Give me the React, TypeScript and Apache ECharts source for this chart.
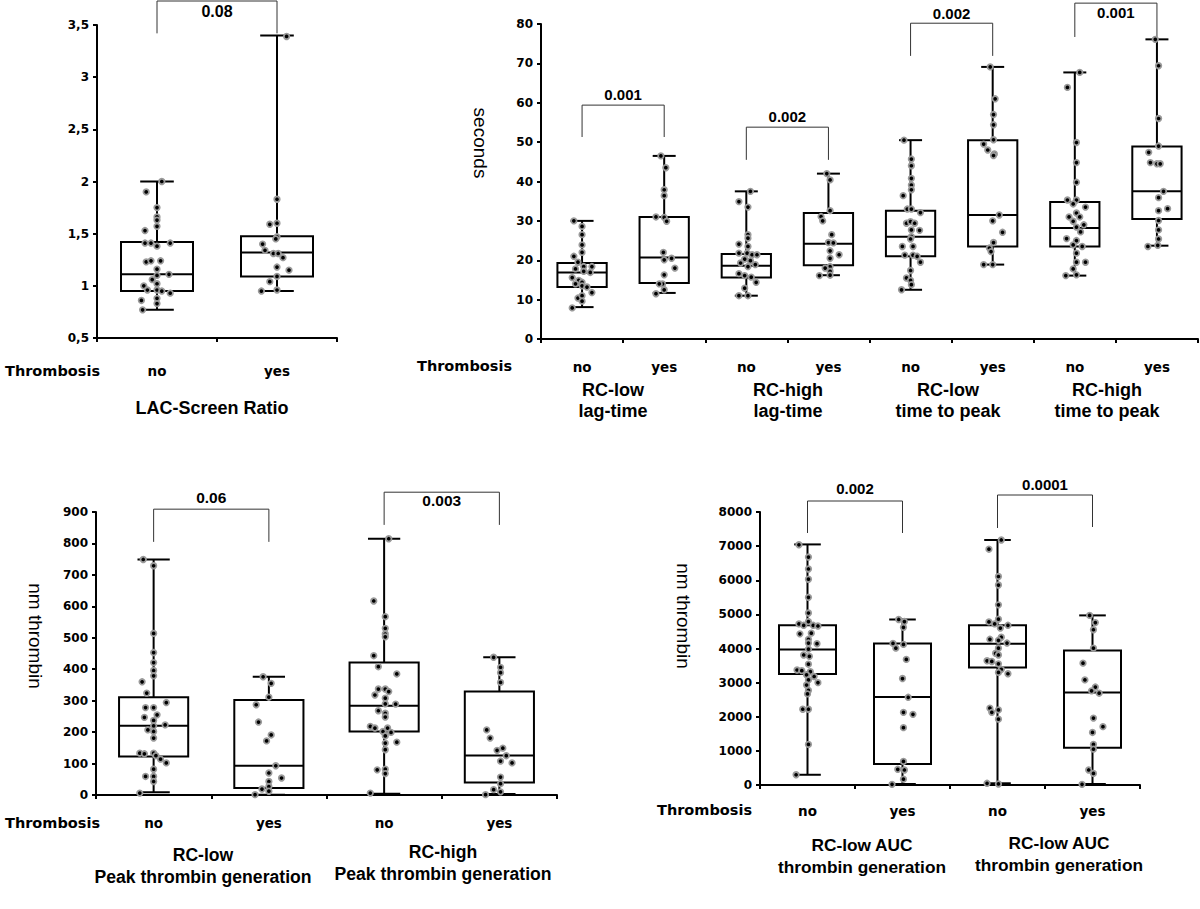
import React, { useEffect, useRef } from 'react';
import * as echarts from 'echarts';

// ---------- Panel A: LAC-Screen Ratio ----------
const lacCategories = ['no', 'yes'];
// [low whisker, q1, median, q3, high whisker]
const lacBox = [
  [0.77, 0.95, 1.11, 1.42, 2.0],
  [0.95, 1.09, 1.32, 1.475, 3.4],
];
// [horizontal jitter, value]
const lacNo = [[0.04, 2.0], [-0.09, 1.9], [0, 1.75], [0, 1.66], [0, 1.63], [0, 1.57], [-0.1, 1.53], [-0.1, 1.41], [-0.05, 1.41], [0, 1.38], [0.11, 1.41], [-0.09, 1.23], [-0.05, 1.24], [0.03, 1.24], [0, 1.16], [0, 1.1], [0.1, 1.11], [-0.04, 1.06], [-0.11, 1.0], [0, 1.02], [-0.08, 0.96], [0, 0.96], [0.04, 0.95], [0.11, 0.93], [-0.13, 0.86], [0, 0.88], [0, 0.83], [-0.12, 0.77]];
const lacYes = [[0.08, 3.39], [0, 1.83], [-0.06, 1.59], [0, 1.6], [0, 1.47], [-0.01, 1.45], [-0.12, 1.4], [-0.1, 1.34], [-0.03, 1.31], [0.01, 1.31], [0.05, 1.27], [0, 1.18], [0.1, 1.15], [0, 1.09], [-0.06, 1.04], [-0.13, 0.95], [0, 0.96]];
const lacPValues = ['0.08'];
// [from cat, to cat, left leg end, right leg end, bar level, label level]
const lacBrackets = [[0, 1, 3.42, 3.42, 3.73, 3.63]];

// ---------- Panel B: seconds ----------
const secCategories = ['no', 'yes', 'no', 'yes', 'no', 'yes', 'no', 'yes'];
const secBox = [
  [8.1, 13.2, 16.9, 19.3, 30],
  [11.7, 14.2, 20.7, 31, 46.5],
  [11, 15.6, 18.6, 21.6, 37.5],
  [16.2, 18.7, 24.2, 32, 42],
  [12.5, 21, 26, 32.6, 50.5],
  [18.9, 23.5, 31.5, 50.5, 69.1],
  [16.1, 23.5, 28.2, 34.8, 67.7],
  [23.7, 30.5, 37.5, 48.9, 76.1],
];
const lagLowNo = [[-0.1, 30], [0, 28.6], [0, 26.5], [0, 23.9], [0, 22], [-0.1, 21], [-0.05, 19.5], [0.02, 18.4], [0.12, 18.4], [-0.08, 17.8], [0.1, 16.9], [0.02, 17.2], [-0.12, 15.6], [-0.04, 14.9], [0, 14.4], [-0.08, 14], [0, 13.5], [0.06, 13.2], [0.12, 11.8], [-0.05, 10.4], [0, 11], [0, 9.6], [-0.12, 7.9]];
const lagLowYes = [[-0.04, 46.5], [0.02, 43.5], [0, 37.9], [0, 36.4], [-0.1, 31], [0, 30.9], [0.03, 29.9], [-0.01, 22], [0.09, 20.5], [0, 20.1], [0.13, 18], [0, 16.3], [-0.02, 14], [-0.06, 14], [0, 12.5], [-0.1, 11.5]];
const lagHighNo = [[0.05, 37.5], [-0.09, 34.9], [0.02, 33.5], [0.02, 26.5], [0.02, 25.6], [-0.09, 24.1], [0.02, 23.5], [-0.09, 21.8], [0.01, 21.8], [0.07, 21.4], [0.13, 21.4], [-0.02, 20.3], [0.05, 19.9], [-0.07, 19.3], [0.11, 18.9], [0.02, 18.4], [-0.09, 16.6], [-0.02, 16.1], [0.06, 15.7], [0.12, 14.4], [-0.02, 12.9], [-0.09, 11], [0.02, 11]];
const lagHighYes = [[-0.02, 42], [0.02, 40.4], [0.02, 32.6], [-0.09, 31.1], [-0.07, 30], [0.04, 26.5], [0, 24.5], [0.06, 24.4], [0.02, 22.4], [0.13, 21.4], [0.02, 20.5], [0.02, 18.4], [-0.04, 18], [0.02, 17.2], [-0.11, 16.1], [0.02, 16.2]];
const ttpLowNo = [[-0.08, 50.5], [0.01, 45.7], [0.01, 44], [0.01, 40.8], [0.01, 39.1], [0.01, 37.9], [-0.09, 36.4], [-0.04, 33], [0.01, 33], [0.12, 32.1], [-0.05, 29.4], [0, 29.8], [0.05, 29.4], [0.01, 27.7], [0.11, 27.6], [0.01, 26], [0, 25.4], [-0.1, 23.5], [0.03, 23.5], [-0.07, 21.3], [0.03, 21.3], [0.08, 21], [0.12, 19.5], [0, 17.4], [-0.05, 15.5], [0, 14.9], [0.01, 13.8], [-0.11, 12.5]];
const ttpLowYes = [[-0.03, 69.1], [0.03, 61], [0.01, 57], [0.01, 54.4], [0.01, 50.6], [-0.11, 49.5], [-0.06, 48], [0.02, 47], [0.01, 46.6], [0.08, 31.5], [0, 30], [0.12, 27.1], [0.01, 24.5], [-0.04, 23.1], [-0.02, 22.2], [-0.11, 18.9], [0, 18.9]];
const ttpHighNo = [[0.06, 67.7], [-0.09, 63.9], [0.02, 49.9], [0.02, 44.8], [0.02, 39.8], [-0.09, 35.3], [0.02, 35.3], [-0.02, 34.3], [0.13, 33.5], [0.02, 32], [-0.07, 31], [0.06, 31], [-0.02, 29.9], [0.11, 29], [0.02, 28.4], [0.07, 27.2], [-0.1, 25.5], [0.02, 25], [-0.02, 23.9], [0.09, 23.5], [0.02, 21.8], [0.02, 19.5], [0.13, 19.5], [-0.02, 17.8], [-0.11, 16.1], [0.02, 16.3]];
const ttpHighYes = [[-0.02, 76.1], [0.02, 69.4], [0.02, 56], [0.02, 49], [-0.1, 47.4], [-0.08, 44.8], [0, 44.5], [0.04, 44.5], [0.08, 37.5], [0.02, 35.9], [0.13, 33.1], [0.02, 32.6], [0.02, 30.1], [0.02, 27.7], [0.02, 25.4], [-0.11, 23.5], [0.01, 23.8]];
const secPValues = ['0.001', '0.002', '0.002', '0.001'];
const secBrackets = [
  [0, 1, 51.3, 51.3, 59.4, 62.2],
  [2, 3, 45.5, 45.5, 53.8, 56.6],
  [4, 5, 71.9, 71.9, 80.2, 82.6],
  [6, 7, 76.7, 76.4, 85.3, 82.8],
];

// ---------- Panel C: Peak thrombin ----------
const peakCategories = ['no', 'yes', 'no', 'yes'];
const peakBox = [
  [8.5, 122.7, 220, 311, 749],
  [1, 22, 93, 302, 376],
  [4, 202, 284, 421, 815],
  [3, 40, 126, 329, 438],
];
const peakLowNo = [[-0.09, 749], [0, 729], [0, 514], [0, 453], [0, 421], [0, 396], [0, 379], [-0.1, 360], [-0.06, 324], [0.11, 294], [-0.07, 278], [0, 278], [0.03, 255], [-0.08, 247], [0, 237], [0, 220], [0.1, 223], [-0.05, 207], [0, 202], [0, 181], [-0.12, 133], [-0.08, 131], [0, 133], [0.02, 125], [0.06, 114], [0.11, 102], [0, 82], [0, 59], [-0.07, 59], [0, 43], [-0.12, 6]];
const peakLowYes = [[-0.05, 376], [0.02, 355], [0, 311], [-0.11, 287], [-0.09, 232], [0.02, 191], [-0.02, 172], [0.06, 93], [0, 70], [0.11, 54], [0, 43], [0, 27], [-0.06, 19], [0, 12], [-0.12, 1]];
const peakHighNo = [[0.04, 815], [-0.09, 617], [0.01, 567], [0.01, 530], [0.01, 512], [0.01, 503], [-0.09, 443], [-0.05, 408], [0.11, 385], [-0.05, 337], [0.01, 337], [0.04, 329], [-0.08, 318], [0.01, 308], [0.01, 290], [0.1, 289], [-0.05, 268], [0.01, 260], [0.01, 248], [-0.12, 218], [-0.08, 213], [0.03, 213], [-0.01, 202], [0.06, 199], [0.01, 188], [0.11, 168], [0.01, 165], [0.01, 144], [-0.06, 80], [0.01, 82], [0.01, 68], [-0.12, 6]];
const peakHighYes = [[-0.05, 438], [0.01, 406], [0.01, 389], [0.01, 358], [-0.11, 207], [-0.08, 181], [0.03, 149], [-0.02, 142], [0.06, 125], [0.01, 108], [0.11, 102], [0.01, 57], [0.01, 36], [-0.05, 17], [0.01, 10], [-0.12, 1]];
const peakPValues = ['0.06', '0.003'];
const peakBrackets = [
  [0, 1, 805, 805, 909, 945],
  [2, 3, 859, 859, 963, 935],
];

// ---------- Panel D: AUC ----------
const aucCategories = ['no', 'yes', 'no', 'yes'];
const aucBox = [
  [300, 3250, 3970, 4680, 7050],
  [30, 616, 2580, 4150, 4850],
  [50, 3440, 4140, 4680, 7180],
  [30, 1095, 2710, 3940, 4970],
];
const aucLowNo = [[-0.09, 7040], [0.01, 6680], [0.01, 6330], [0.01, 6030], [0.01, 5500], [0.01, 5040], [-0.09, 4720], [-0.04, 4680], [0.01, 4790], [0.06, 4680], [0.11, 4660], [-0.08, 4430], [0.04, 4450], [0.01, 4270], [0.01, 4160], [0.1, 4140], [0.01, 3980], [-0.04, 3810], [0.02, 3770], [0.01, 3540], [-0.11, 3370], [-0.06, 3350], [0.03, 3320], [0.07, 3180], [-0.01, 3230], [0.01, 3080], [0.11, 3000], [-0.01, 2930], [0.01, 2770], [0, 2670], [-0.05, 2220], [0.01, 2220], [0.01, 1190], [-0.12, 300]];
const aucLowYes = [[-0.04, 4850], [0.02, 4790], [0.01, 4620], [-0.1, 4150], [-0.07, 4010], [0.01, 4120], [0.04, 3680], [0, 3120], [0.06, 2570], [0.01, 2130], [0.11, 2070], [0.01, 1680], [0.01, 690], [-0.05, 460], [0.02, 440], [0.01, 170], [-0.11, 20]];
const aucHighNo = [[0.04, 7180], [-0.09, 6910], [0.01, 6110], [0.01, 5860], [0.01, 5280], [-0.09, 4780], [0.01, 4860], [-0.03, 4720], [0.11, 4680], [0.03, 4600], [-0.08, 4270], [0.04, 4330], [0.01, 4240], [0.1, 4160], [0.01, 4010], [-0.02, 3860], [0.01, 3810], [-0.11, 3640], [-0.06, 3620], [0.01, 3550], [0.04, 3390], [0.01, 3300], [0.11, 3260], [-0.08, 2250], [0.01, 2200], [-0.06, 2130], [0.01, 1930], [-0.11, 50], [0.01, 30]];
const aucHighYes = [[-0.03, 4970], [0.03, 4760], [0.01, 4550], [0.01, 4010], [-0.1, 3570], [-0.08, 3080], [0.03, 2870], [0.07, 2690], [-0.01, 2760], [0.01, 1960], [0.11, 1710], [0, 1540], [0.01, 1190], [0.01, 1050], [-0.04, 440], [0.01, 340], [-0.11, 20]];
const aucPValues = ['0.002', '0.0001'];
const aucBrackets = [
  [0, 1, 7385, 7385, 8322, 8680],
  [2, 3, 7531, 7560, 8498, 8800],
];

const panels = [
  {
    grid: { left: 97, top: 25, width: 240, height: 313 },
    cats: lacCategories, box: lacBox, pts: [lacNo, lacYes],
    y: { min: 0.5, max: 3.5, interval: 0.5 }, labelMargin: 26,
    brackets: lacBrackets, pvals: lacPValues, pFont: 16, comma: true,
  },
  {
    grid: { left: 541, top: 24, width: 657, height: 315 },
    cats: secCategories, box: secBox,
    pts: [lagLowNo, lagLowYes, lagHighNo, lagHighYes, ttpLowNo, ttpLowYes, ttpHighNo, ttpHighYes],
    y: { min: 0, max: 80, interval: 10 }, labelMargin: 21,
    brackets: secBrackets, pvals: secPValues, pFont: 15, comma: false,
  },
  {
    grid: { left: 96, top: 512, width: 461, height: 283 },
    cats: peakCategories, box: peakBox, pts: [peakLowNo, peakLowYes, peakHighNo, peakHighYes],
    y: { min: 0, max: 900, interval: 100 }, labelMargin: 21,
    brackets: peakBrackets, pvals: peakPValues, pFont: 15.5, comma: false,
  },
  {
    grid: { left: 760, top: 512, width: 380, height: 273 },
    cats: aucCategories, box: aucBox, pts: [aucLowNo, aucLowYes, aucHighNo, aucHighYes],
    y: { min: 0, max: 8000, interval: 1000 }, labelMargin: 19,
    brackets: aucBrackets, pvals: aucPValues, pFont: 15, comma: false,
  },
];

const titleFont = (size: number) => `bold ${size}px "Liberation Sans", Arial, sans-serif`;
const spacedFont = 'bold 14.5px "DejaVu Sans", sans-serif';
const nameFont = '19px "Liberation Sans", Arial, sans-serif';

function txt(text: string, x: number, y: number, font: string, align = 'center', rotation = 0, lineHeight?: number) {
  return {
    type: 'text', x, y, rotation,
    style: {
      text, font, fill: '#000', align, verticalAlign: 'middle',
      textAlign: align, textVerticalAlign: 'middle', lineHeight,
    },
  };
}

function boxRender(params: any, api: any) {
  const cat = api.value(0);
  const low = api.coord([cat, api.value(1)]);
  const q1 = api.coord([cat, api.value(2)]);
  const med = api.coord([cat, api.value(3)]);
  const q3 = api.coord([cat, api.value(4)]);
  const high = api.coord([cat, api.value(5)]);
  const bw = api.size([1, 0])[0];
  const hb = bw * 0.3;
  const hc = bw * 0.14;
  const x = med[0];
  const ls = { stroke: '#000', lineWidth: 2, fill: null };
  return {
    type: 'group',
    children: [
      { type: 'line', shape: { x1: x, y1: high[1], x2: x, y2: q3[1] }, style: ls },
      { type: 'line', shape: { x1: x, y1: q1[1], x2: x, y2: low[1] }, style: ls },
      { type: 'line', shape: { x1: x - hc, y1: high[1], x2: x + hc, y2: high[1] }, style: ls },
      { type: 'line', shape: { x1: x - hc, y1: low[1], x2: x + hc, y2: low[1] }, style: ls },
      { type: 'rect', shape: { x: x - hb, y: q3[1], width: 2 * hb, height: q1[1] - q3[1] }, style: { stroke: '#000', lineWidth: 2, fill: 'none' } },
      { type: 'line', shape: { x1: x - hb, y1: med[1], x2: x + hb, y2: med[1] }, style: ls },
    ],
  };
}

function bracketRender(labels: string[], fontSize: number) {
  return (params: any, api: any) => {
    const a = api.value(0);
    const b = api.value(1);
    const legL = api.value(2);
    const legR = api.value(3);
    const top = api.value(4);
    const lab = api.value(5);
    const p1 = api.coord([a, legL]);
    const p2 = api.coord([a, top]);
    const p3 = api.coord([b, top]);
    const p4 = api.coord([b, legR]);
    const pl = api.coord([(a + b) / 2, lab]);
    const ls = { stroke: '#333', lineWidth: 1, fill: null };
    return {
      type: 'group',
      children: [
        { type: 'line', shape: { x1: p1[0], y1: p1[1], x2: p2[0], y2: p2[1] }, style: ls },
        { type: 'line', shape: { x1: p2[0], y1: p2[1], x2: p3[0], y2: p3[1] }, style: ls },
        { type: 'line', shape: { x1: p3[0], y1: p3[1], x2: p4[0], y2: p4[1] }, style: ls },
        {
          type: 'text', x: pl[0], y: pl[1],
          style: {
            text: labels[params.dataIndex], fill: '#000', font: titleFont(fontSize),
            align: 'center', verticalAlign: 'middle', textAlign: 'center', textVerticalAlign: 'middle',
          },
        },
      ],
    };
  };
}

export default function App() {
  const ref = useRef<HTMLDivElement>(null);
  useEffect(() => {
    if (!ref.current) return;
    const chart = echarts.init(ref.current, undefined, { renderer: 'svg' });
    const axisLine = { color: '#000', width: 2 };
    const n = panels.length;
    const xAxis: any[] = panels.map((p, i) => ({
      type: 'category', gridIndex: i, data: p.cats, boundaryGap: true,
      axisLine: { show: true, onZero: false, lineStyle: axisLine },
      axisTick: { show: true, length: 4, lineStyle: axisLine },
      axisLabel: {
        interval: 0, margin: p.labelMargin, color: '#000',
        fontFamily: 'DejaVu Sans', fontWeight: 'bold', fontSize: 13.5,
      },
      splitLine: { show: false },
    })).concat(panels.map((p, i) => ({
      type: 'value', gridIndex: i, min: -0.5, max: p.cats.length - 0.5, show: false,
      axisLine: { onZero: false },
    })));
    const yAxis = panels.map((p, i) => ({
      type: 'value', gridIndex: i, min: p.y.min, max: p.y.max, interval: p.y.interval,
      axisLine: { show: true, onZero: false, lineStyle: axisLine },
      axisTick: { show: true, length: 4, lineStyle: axisLine },
      axisLabel: {
        margin: 8, color: '#000', fontFamily: 'DejaVu Sans', fontWeight: 'bold', fontSize: 12,
        formatter: (v: number) => (p.comma ? String(v).replace('.', ',') : String(v)),
      },
      splitLine: { show: false },
    }));
    const series: any[] = [];
    panels.forEach((p, i) => {
      series.push({
        type: 'custom', xAxisIndex: i, yAxisIndex: i, z: 2, clip: false,
        renderItem: boxRender,
        encode: { x: 0, y: [1, 2, 3, 4, 5] },
        data: p.box.map((b, k) => [k, ...b]),
      });
      series.push({
        type: 'custom', xAxisIndex: n + i, yAxisIndex: i, z: 2, clip: false,
        renderItem: bracketRender(p.pvals, p.pFont),
        encode: { x: [0, 1], y: [2, 3, 4, 5] },
        data: p.brackets,
      });
      series.push({
        type: 'scatter', xAxisIndex: n + i, yAxisIndex: i, z: 3,
        symbol: 'circle', symbolSize: 5.5,
        itemStyle: { color: '#000', borderColor: '#9a9a9a', borderWidth: 1.8, opacity: 1 },
        data: p.pts.flatMap((g, k) => g.map(([o, v]) => [k + o, v])),
      });
    });

    const graphic = [
      // Thrombosis row labels
      txt('Thrombosis', 5, 371, spacedFont, 'left'),
      txt('Thrombosis', 417, 366, spacedFont, 'left'),
      txt('Thrombosis', 5, 823, spacedFont, 'left'),
      txt('Thrombosis', 657, 810, spacedFont, 'left'),
      // Group titles
      txt('LAC-Screen Ratio', 212, 408, titleFont(18)),
      txt('RC-low\nlag-time', 613, 400, titleFont(18), 'center', 0, 21),
      txt('RC-high\nlag-time', 788, 400, titleFont(18), 'center', 0, 21),
      txt('RC-low\ntime to peak', 948, 400, titleFont(18), 'center', 0, 21),
      txt('RC-high\ntime to peak', 1107, 400, titleFont(18), 'center', 0, 21),
      txt('RC-low\nPeak thrombin generation', 203, 866, titleFont(17.6), 'center', 0, 22),
      txt('RC-high\nPeak thrombin generation', 443, 863, titleFont(17.6), 'center', 0, 22),
      txt('RC-low AUC\nthrombin generation', 862, 856, titleFont(17.3), 'center', 0, 22),
      txt('RC-low AUC\nthrombin generation', 1059, 854, titleFont(17.3), 'center', 0, 22),
      // Y axis names
      txt('seconds', 480, 143, nameFont, 'center', -Math.PI / 2),
      txt('nm thrombin', 35, 636, nameFont, 'center', -Math.PI / 2),
      txt('nm thrombin', 683, 616, nameFont, 'center', -Math.PI / 2),
    ];

    chart.setOption({
      animation: false,
      backgroundColor: '#fff',
      grid: panels.map((p) => ({ ...p.grid, containLabel: false })),
      xAxis, yAxis, series, graphic,
    });
    return () => chart.dispose();
  }, []);
  return (
    <div
      ref={ref}
      style={{ position: 'absolute', left: 0, top: 0, width: 1200, height: 909, background: '#fff' }}
    />
  );
}
